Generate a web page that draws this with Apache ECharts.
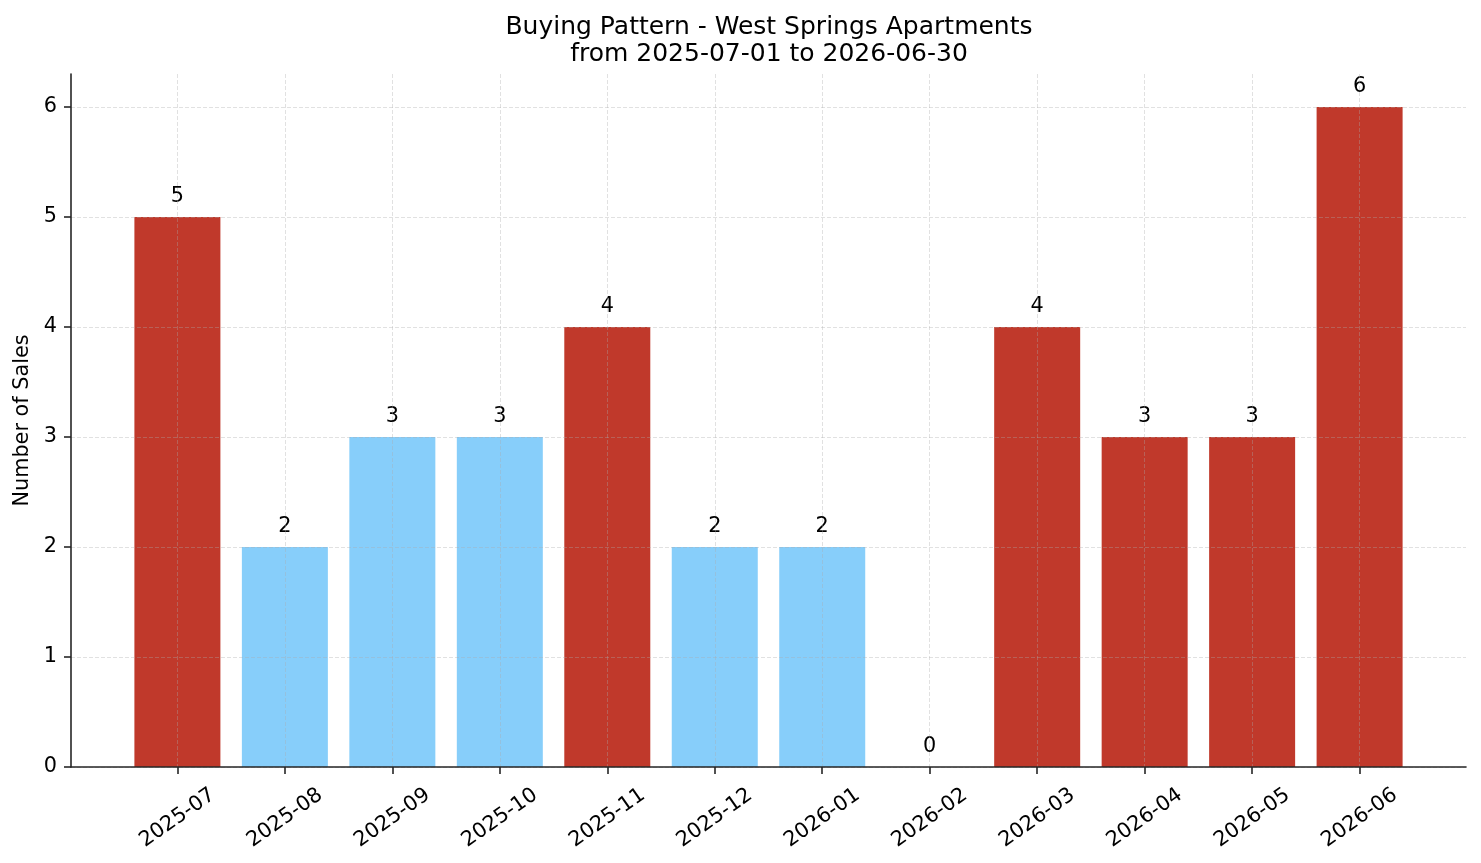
<!DOCTYPE html>
<html>
<head>
<meta charset="utf-8">
<title>Buying Pattern - West Springs Apartments</title>
<script src="https://cdn.jsdelivr.net/npm/echarts@6/dist/echarts.min.js"></script>
<style>
  html, body { margin: 0; padding: 0; background: #fff; }
  #chart { width: 1481px; height: 863px; }
</style>
</head>
<body>
<div id="chart"></div>
<script>
// monthly sales counts
const months = ['2025-07', '2025-08', '2025-09', '2025-10', '2025-11', '2025-12',
                '2026-01', '2026-02', '2026-03', '2026-04', '2026-05', '2026-06'];
const sales = [5, 2, 3, 3, 4, 2, 2, 0, 4, 3, 3, 6];
// 1 = red bar, 0 = light blue bar
const highlighted = [1, 0, 0, 0, 1, 0, 0, 0, 1, 1, 1, 1];
const yTicks = [0, 1, 2, 3, 4, 5, 6];

const RED = '#c0392b';
const BLUE = '#87cefa';
const FONT = 'DejaVu Sans';
const AXIS_COLOR = '#262626';

const chart = echarts.init(document.getElementById('chart'));

const xTicks = months.map((m, i) => i);

const option = {
  animation: false,
  title: {
    text: 'Buying Pattern - West Springs Apartments\nfrom 2025-07-01 to 2026-06-30',
    left: 764,
    top: 9,
    textAlign: 'center',
    textStyle: { fontFamily: FONT, fontSize: 25, fontWeight: 'normal', color: '#000', lineHeight: 27 }
  },
  grid: { left: 71, right: 15, top: 74, bottom: 96, outerBoundsMode: 'none', containLabel: false },
  xAxis: {
    type: 'value',
    min: -0.99,
    max: 11.99,
    z: 3,
    axisLine: { show: true, onZero: false, lineStyle: { color: AXIS_COLOR, width: 1.6 } },
    axisTick: { show: true, customValues: xTicks, length: 7, lineStyle: { color: AXIS_COLOR, width: 1.6 } },
    axisLabel: {
      customValues: xTicks,
      formatter: v => months[Math.round(v)] || '',
      rotate: 35,
      align: 'center',
      verticalAlign: 'middle',
      margin: 51,
      fontFamily: FONT, fontSize: 20.8, color: '#000'
    },
    splitLine: { show: true, lineStyle: { type: [4, 2], color: 'rgba(170,170,170,0.45)', width: 0.8 } }
  },
  yAxis: {
    type: 'value',
    min: 0,
    max: 6.3,
    z: 3,
    name: 'Number of Sales',
    nameLocation: 'middle',
    nameGap: 37,
    nameTextStyle: { fontFamily: FONT, fontSize: 20.8, color: '#000' },
    axisLine: { show: true, onZero: false, lineStyle: { color: AXIS_COLOR, width: 1.6 } },
    axisTick: { show: true, customValues: yTicks, length: 7, lineStyle: { color: AXIS_COLOR, width: 1.6 } },
    axisLabel: { customValues: yTicks, margin: 14, fontFamily: FONT, fontSize: 20.8, color: '#000' },
    splitLine: { show: true, lineStyle: { type: [4, 2], color: 'rgba(170,170,170,0.45)', width: 0.8 } }
  },
  series: [{
    type: 'bar',
    barWidth: 86,
    z: 1,
    data: sales.map((v, i) => ({
      value: [i, v],
      itemStyle: { color: highlighted[i] ? RED : BLUE }
    })),
    label: {
      show: true,
      position: 'top',
      distance: 10,
      formatter: p => String(p.value[1]),
      fontFamily: FONT, fontSize: 20.8, color: '#000'
    }
  }]
};

chart.setOption(option);
</script>
</body>
</html>
